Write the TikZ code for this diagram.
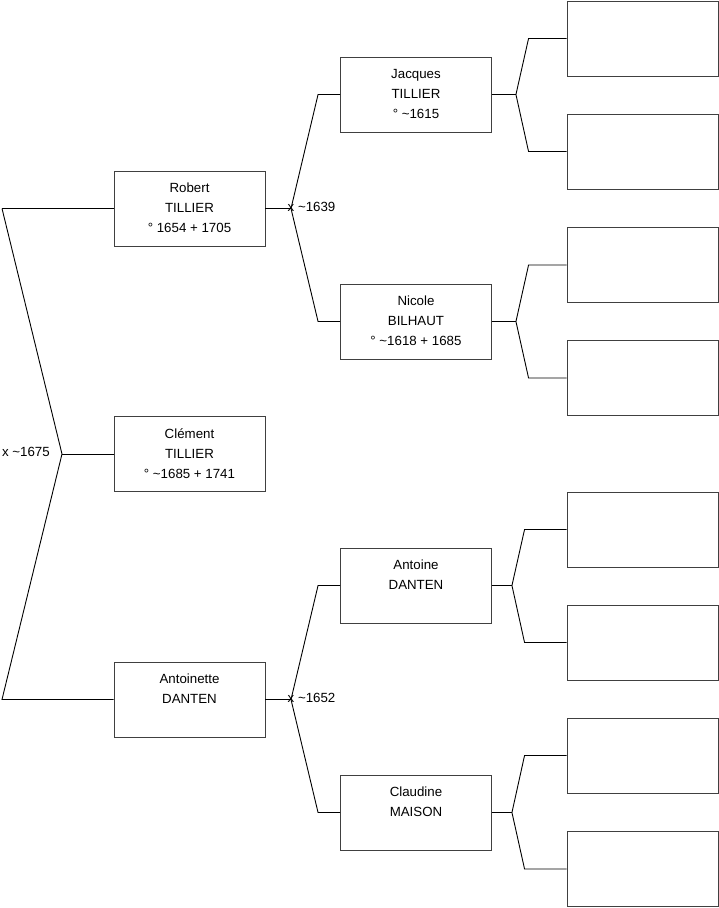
\documentclass[tikz,border=0pt]{standalone}
\usepackage{fontspec}
\setmainfont{Liberation Sans}
\usetikzlibrary{positioning,calc}
\tikzset{
  person/.style={draw=black!75,fill=white,line width=0.9pt,
    minimum width=151pt,minimum height=75pt,inner sep=0pt},
  who/.style={anchor=north,yshift=-12.5pt,align=center,inner sep=0pt,
    font=\fontsize{13.3}{20}\selectfont},
  union/.style={inner sep=0pt,font=\fontsize{13.3}{15}\selectfont},
  link/.style={draw=black,line width=0.9pt}
}

\begin{document}
\begin{tikzpicture}[x=1pt,y=-1pt]
  \useasboundingbox (0,0) rectangle (719,908);
  % children and parents
  \node[person,label={[who]north:Clément\\TILLIER\\° \textasciitilde1685 + 1741}] (cle) at (189.5,454) {};
  \node[person,label={[who]north:Robert\\TILLIER\\° 1654 + 1705}] (rob) at (189.5,208.5) {};
  \node[person,label={[who]north:Antoinette\\DANTEN}] (ant) at (189.5,699.5) {};
  % grand parents
  \node[person,label={[who]north:Jacques\\TILLIER\\° \textasciitilde1615}] (jac) at (416,94.5) {};
  \node[person,label={[who]north:Nicole\\BILHAUT\\° \textasciitilde1618 + 1685}] (nic) at (416,321.5) {};
  \node[person,label={[who]north:Antoine\\DANTEN}] (atn) at (416,585.5) {};
  \node[person,label={[who]north:Claudine\\MAISON}] (cla) at (416,812.5) {};
  % unknown ancestors
  \foreach \n/\y in {g1/38.5,g2/151.5,g3/265,g4/378,g5/529.5,g6/642.5,g7/755.5,g8/869}
    \node[person] (\n) at (642.5,\y) {};

  % marriage of the parents
  \coordinate (r1) at (2,208.5);
  \coordinate (r2) at (2,699.5);
  \coordinate (m0) at (62,454);
  \draw[link] (r1) -- (rob.west);
  \draw[link] (r1) -- (m0) -- (r2) -- (ant.west);
  \draw[link] (m0) -- (cle.west);
  \node[union,anchor=east] (u0) at (50,452) {x \textasciitilde1675};

  % marriages of the grand parents
  \coordinate (m1) at (291,208.5);
  \draw[link] (rob.east) -- (m1);
  \draw[link] (m1) -- ([xshift=-22pt]jac.west) -- (jac.west);
  \draw[link] (m1) -- ([xshift=-22pt]nic.west) -- (nic.west);
  \node[union,anchor=west] (u1) at (287.5,207) {x \textasciitilde1639};
  \coordinate (m2) at (291,699.5);
  \draw[link] (ant.east) -- (m2);
  \draw[link] (m2) -- ([xshift=-22pt]atn.west) -- (atn.west);
  \draw[link] (m2) -- ([xshift=-22pt]cla.west) -- (cla.west);
  \node[union,anchor=west] (u2) at (287.5,698) {x \textasciitilde1652};

  % great grand parents
  \foreach \p/\a/\b/\d/\e in {jac/g1/g2/24/38,nic/g3/g4/24/38,atn/g5/g6/20/42,cla/g7/g8/20/42} {
    \coordinate (f\p) at ([xshift=\d pt]\p.east);
    \draw[link] (\p.east) -- (f\p);
    \draw[link] (f\p) -- ([xshift=-\e pt]\a.west) -- (\a.west);
    \draw[link] (f\p) -- ([xshift=-\e pt]\b.west) -- (\b.west);
  }
\end{tikzpicture}
\end{document}
